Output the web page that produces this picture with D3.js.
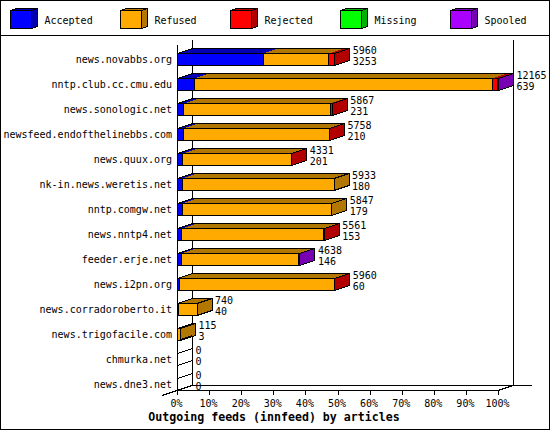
<!DOCTYPE html>
<html>
<head>
<meta charset="utf-8">
<script src="https://cdn.jsdelivr.net/npm/d3@7"></script>
<style>
html, body { margin: 0; padding: 0; background: #fff; }
svg { display: block; }
text { font-family: "DejaVu Sans Mono", monospace; font-size: 10px; fill: #000; }
.title { font-weight: bold; font-size: 11.6px; }
</style>
</head>
<body>
<svg width="550" height="430"></svg>
<script>
var svg = d3.select("svg");

var hosts = ["news.novabbs.org", "nntp.club.cc.cmu.edu", "news.sonologic.net", "newsfeed.endofthelinebbs.com",
    "news.quux.org", "nk-in.news.weretis.net", "nntp.comgw.net", "news.nntp4.net", "feeder.erje.net",
    "news.i2pn.org", "news.corradoroberto.it", "news.trigofacile.com", "chmurka.net", "news.dne3.net"];
var accepted = [3253, 639, 231, 210, 201, 180, 179, 153, 146, 60, 40, 3, 0, 0];
var refused = [2480, 11296, 5556, 5538, 4120, 5753, 5668, 5398, 4442, 5890, 700, 112, 0, 0];
var rejected = [227, 190, 80, 10, 10, 0, 0, 10, 15, 10, 0, 0, 0, 0];
var missing = [0, 0, 0, 0, 0, 0, 0, 0, 0, 0, 0, 0, 0, 0];
var spooled = [0, 40, 0, 0, 0, 0, 0, 0, 35, 0, 0, 0, 0, 0];
var totals = [5960, 12165, 5867, 5758, 4331, 5933, 5847, 5561, 4638, 5960, 740, 115, 0, 0];
var percentTicks = [0, 10, 20, 30, 40, 50, 60, 70, 80, 90, 100];

var seriesNames = ["Accepted", "Refused", "Rejected", "Missing", "Spooled"];
var seriesValues = [accepted, refused, rejected, missing, spooled];
var faceColor = ["#0000ff", "#ffaa00", "#ff0000", "#00ff00", "#aa00ff"];
var darkColor = ["#0000b2", "#b27700", "#b20000", "#00b200", "#7700b2"];

var depthX = 15, depthY = 5, barH = 12;
var maxTotal = d3.max(totals);

var x = d3.scaleLinear().domain([0, 100]).range([177, 498]);
var y = d3.scaleBand().domain(hosts).range([40, 390]);

function xv(v) {
    return x(v / maxTotal * 100);
}

function poly(g, pts, fill, stroke) {
    return g.append("polygon")
        .attr("points", pts.map(function (p) { return p.join(","); }).join(" "))
        .attr("fill", fill)
        .attr("stroke", stroke || "none")
        .attr("shape-rendering", "crispEdges");
}

function line(g, x1, y1, x2, y2) {
    g.append("line")
        .attr("x1", x1).attr("y1", y1).attr("x2", x2).attr("y2", y2)
        .attr("stroke", "#000")
        .attr("shape-rendering", "crispEdges");
}

// frame and legend box
svg.append("rect").attr("x", 0.5).attr("y", 0.5).attr("width", 549).attr("height", 429)
    .attr("fill", "#fff").attr("stroke", "#000").attr("shape-rendering", "crispEdges");
line(svg, 0, 35.5, 550, 35.5);

var legendX = d3.scalePoint().domain(seriesNames).range([10, 450]);
seriesNames.forEach(function (name, i) {
    var g = svg.append("g");
    var lx = legendX(name) + 0.5;
    poly(g, [[lx + 21, 10.5], [lx + 27, 8.5], [lx + 27, 26.5], [lx + 21, 28.5]], darkColor[i], "#000");
    poly(g, [[lx, 10.5], [lx + 6, 8.5], [lx + 27, 8.5], [lx + 21, 10.5]], darkColor[i], "#000");
    g.append("rect").attr("x", lx).attr("y", 10.5).attr("width", 21).attr("height", 18)
        .attr("fill", faceColor[i]).attr("stroke", "#000").attr("shape-rendering", "crispEdges");
    g.append("text").attr("x", lx + 34).attr("y", 23.5).text(name);
});

// walls and floor
var walls = svg.append("g");
line(walls, 177.5, 45, 177.5, 395);
line(walls, 192.5, 40, 192.5, 385);
line(walls, 513.5, 40, 513.5, 385);
line(walls, 192, 385.5, 532, 385.5);
line(walls, 177, 390.5, 498, 390.5);
line(walls, 162, 395.5, 192, 385.5);
line(walls, 498, 390.5, 513, 385.5);

// bars
hosts.forEach(function (host, r) {
    var g = svg.append("g");
    var bottom = y(host) + y.bandwidth();
    var top = bottom - barH;
    var start = 0;
    var end = totals[r];
    var left = xv(0) + 0.5, right = xv(end) + 0.5;

    // top faces first, each series in its dark colour
    seriesValues.forEach(function (vals, s) {
        var v = vals[r];
        if (!v) return;
        var a = xv(start) + 0.5, b = xv(start + v) + 0.5;
        poly(g, [[a, top + .5], [a + depthX, top + .5 - depthY], [b + depthX, top + .5 - depthY], [b, top + .5]], darkColor[s]);
        start += v;
    });

    // end face takes the colour of the last series in the stack
    var last = -1;
    seriesValues.forEach(function (vals, s) { if (vals[r]) last = s; });
    poly(g, [[right, top + .5], [right + depthX, top + .5 - depthY], [right + depthX, bottom + .5 - depthY], [right, bottom + .5]],
        last < 0 ? "none" : darkColor[last], "#000");

    // outline of the top
    line(g, left, top + .5, left + depthX, top + .5 - depthY);
    line(g, left + depthX, top + .5 - depthY, right + depthX, top + .5 - depthY);
    line(g, left, bottom + .5, left + depthX, bottom + .5 - depthY);

    // front faces, slivers under a pixel only colour the top and end
    start = 0;
    seriesValues.forEach(function (vals, s) {
        var v = vals[r];
        if (!v) return;
        var a = Math.round(xv(start)) + 0.5, b = Math.round(xv(start + v)) + 0.5;
        if (b > a) {
            g.append("rect").attr("x", a).attr("y", top + .5).attr("width", b - a).attr("height", barH)
                .attr("fill", faceColor[s]).attr("stroke", "#000").attr("shape-rendering", "crispEdges");
        }
        start += v;
    });

    // value labels
    var lx = right + depthX + 3;
    g.append("text").attr("x", lx).attr("y", top + 0.5).text(totals[r]);
    g.append("text").attr("x", lx).attr("y", top + 11.5).text(accepted[r]);

    g.append("text").attr("x", 172).attr("y", top + 9.5).attr("text-anchor", "end").text(host);
});

// percent axis
var axis = d3.axisBottom(x).tickValues(percentTicks).tickSize(5).tickSizeOuter(0)
    .tickFormat(function (d) { return d + "%"; });
var ax = svg.append("g").attr("transform", "translate(0,390)").call(axis);
ax.select(".domain").remove();
ax.selectAll("line").attr("shape-rendering", "crispEdges").attr("stroke", "#000");
ax.selectAll("text").attr("y", 10).attr("dx", -1).attr("dy", "0.71em")
    .style("font-family", '"DejaVu Sans Mono", monospace').style("font-size", "10px");

svg.append("text").attr("class", "title").attr("x", 274).attr("y", 421).attr("text-anchor", "middle")
    .text("Outgoing feeds (innfeed) by articles");
</script>
</body>
</html>
